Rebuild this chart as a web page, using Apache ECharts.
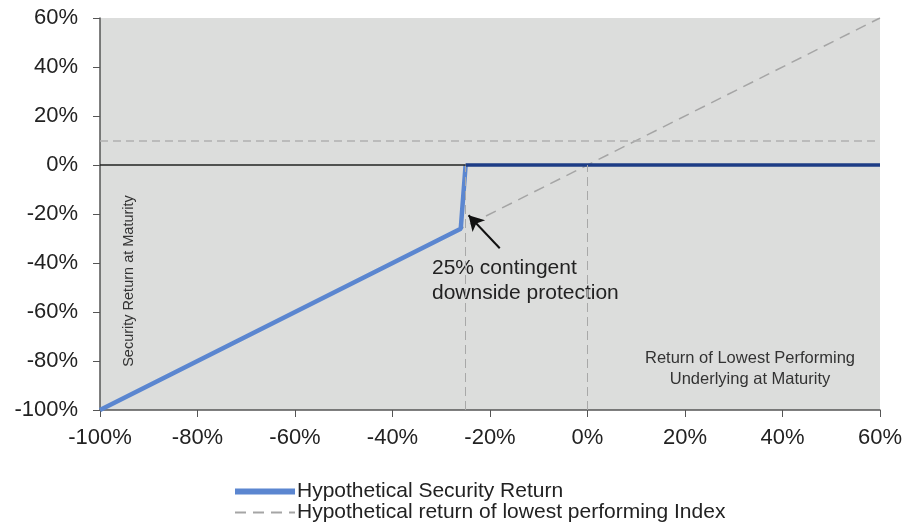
<!DOCTYPE html>
<html><head><meta charset="utf-8">
<script src="https://cdn.jsdelivr.net/npm/echarts@6/dist/echarts.min.js"></script>
<style>html,body{margin:0;padding:0;background:#fff}#c{width:906px;height:527px}</style>
</head><body><div id="c"></div>
<script>
const xTicks = [-100,-80,-60,-40,-20,0,20,40,60];
const yTicks = [-100,-80,-60,-40,-20,0,20,40,60];
const indexReturn = [[-100,-100],[60,60]];
const securityDown = [[-100,-100],[-26,-26],[-25,0]];
const securityFlat = [[-25,0],[60,0]];
const barrier = -25;
const couponLine = 10;
const arrowFrom = [-18,-34];
const arrowTo = [-24.4,-20.5];

const chart = echarts.init(document.getElementById('c'));
const FONT = 'Liberation Sans, Arial, sans-serif';
chart.setOption({
  animation:false,
  textStyle:{fontFamily:FONT},
  grid:{left:100,right:26,top:18,bottom:117,show:true,backgroundColor:'#dcdddc',borderWidth:0},
  xAxis:{type:'value',min:xTicks[0],max:xTicks[xTicks.length-1],interval:20,
    axisLine:{onZero:false,lineStyle:{color:'#555',width:1.5}},
    axisTick:{show:true,length:7,lineStyle:{color:'#555'}},
    splitLine:{show:false},
    axisLabel:{formatter:'{value}%',fontSize:22,color:'#222',margin:17,fontFamily:FONT}},
  yAxis:{type:'value',min:yTicks[0],max:yTicks[yTicks.length-1],interval:20,
    axisLine:{show:true,onZero:false,lineStyle:{color:'#555',width:1.5}},
    axisTick:{show:true,length:7,lineStyle:{color:'#555'}},
    splitLine:{show:false},
    axisLabel:{formatter:'{value}%',fontSize:22,color:'#222',margin:22,fontFamily:FONT}},
  legend:{orient:'vertical',left:232,top:481,padding:0,itemWidth:60,itemHeight:14,itemGap:0,
    itemStyle:{opacity:0},
    textStyle:{fontSize:21,lineHeight:20,color:'#222',fontFamily:FONT,padding:[0,0,0,-3]},
    data:[{name:'Hypothetical Security Return',lineStyle:{width:6}},
          {name:'Hypothetical return of lowest performing Index'}]},
  series:[
    {name:'Hypothetical return of lowest performing Index',type:'line',data:indexReturn,symbol:'none',
      lineStyle:{color:'#a5a5a5',width:1.5,type:[11,7]},itemStyle:{color:'#a5a5a5'},z:2,
      markLine:{silent:true,symbol:'none',label:{show:false},animation:false,
        data:[
          [{coord:[xTicks[0],couponLine],lineStyle:{color:'#b0b0b0',width:1.5,type:[8,5]}},{coord:[xTicks[xTicks.length-1],couponLine]}],
          [{coord:[barrier,yTicks[0]],lineStyle:{color:'#a8a8a8',width:1,type:[9,5]}},{coord:[barrier,0]}],
          [{coord:[0,yTicks[0]],lineStyle:{color:'#a8a8a8',width:1,type:[9,5]}},{coord:[0,0]}],
          [{coord:[xTicks[0],0],lineStyle:{color:'#222',width:1.5,type:'solid'}},{coord:[barrier,0]}]
        ]}},
    {name:'Hypothetical Security Return',type:'line',data:securityDown,symbol:'none',
      lineStyle:{color:'#5b86d0',width:4.5},itemStyle:{color:'#5b86d0'},z:3},
    {name:'flat',type:'line',data:securityFlat,symbol:'none',
      lineStyle:{color:'#1d3c86',width:3.5},z:4,
      markLine:{silent:true,symbol:['none','arrow'],symbolSize:[13,15],label:{show:false},
        data:[[{coord:arrowFrom,lineStyle:{color:'#111',width:2,type:'solid'}},{coord:arrowTo}]]}}
  ],
  graphic:[
    {type:'text',left:432,top:256,style:{text:'25% contingent\ndownside protection',fontSize:21,lineHeight:25,fill:'#222',fontFamily:FONT}},
    {type:'text',x:750,y:369,style:{text:'Return of Lowest Performing\nUnderlying at Maturity',fontSize:16.5,lineHeight:21,fill:'#333',align:'center',verticalAlign:'middle',fontFamily:FONT}},
    {type:'text',x:129,y:281,rotation:Math.PI/2,style:{text:'Security Return at Maturity',fontSize:14.5,fill:'#333',align:'center',verticalAlign:'middle',fontFamily:FONT}}
  ]
});
</script></body></html>
